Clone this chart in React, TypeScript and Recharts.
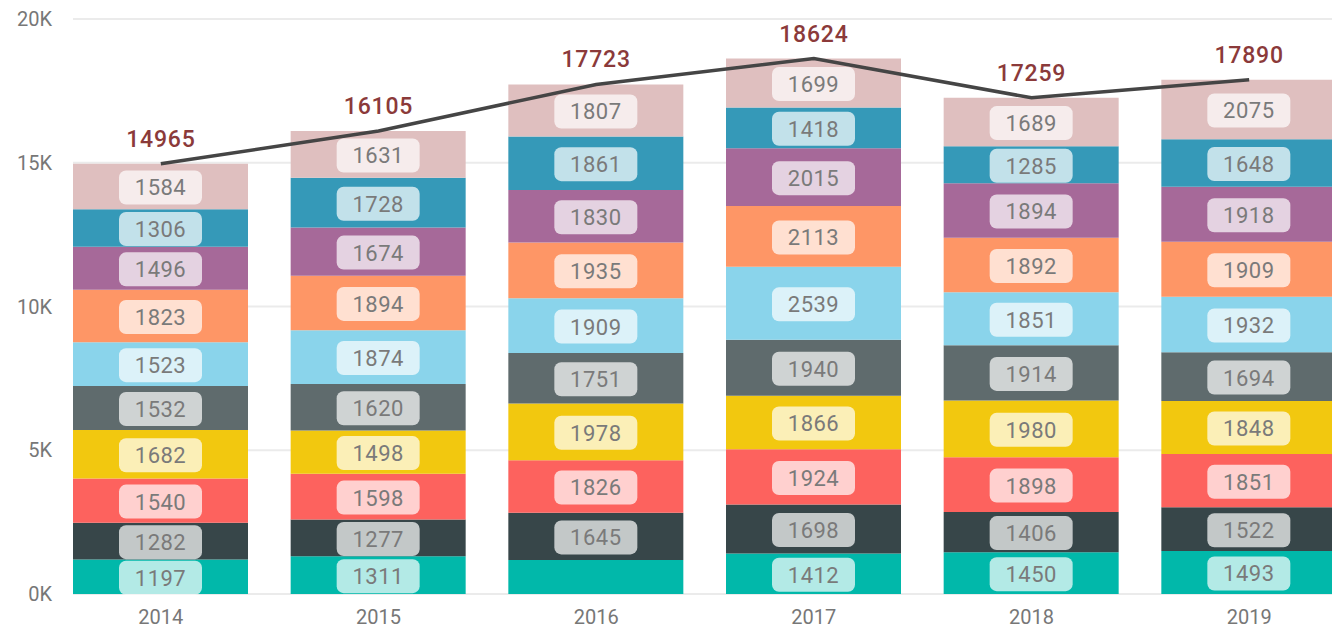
import { ComposedChart, Bar, Line, XAxis, YAxis, CartesianGrid, LabelList } from 'recharts'

const YEARS = ['2014', '2015', '2016', '2017', '2018', '2019']

// stacked series, bottom to top
const s1 = [1197, 1311, 1181, 1412, 1450, 1493]
const s2 = [1282, 1277, 1645, 1698, 1406, 1522]
const s3 = [1540, 1598, 1826, 1924, 1898, 1851]
const s4 = [1682, 1498, 1978, 1866, 1980, 1848]
const s5 = [1532, 1620, 1751, 1940, 1914, 1694]
const s6 = [1523, 1874, 1909, 2539, 1851, 1932]
const s7 = [1823, 1894, 1935, 2113, 1892, 1909]
const s8 = [1496, 1674, 1830, 2015, 1894, 1918]
const s9 = [1306, 1728, 1861, 1418, 1285, 1648]
const s10 = [1584, 1631, 1807, 1699, 1689, 2075]
const TOTALS = [14965, 16105, 17723, 18624, 17259, 17890]

const SERIES = [s1, s2, s3, s4, s5, s6, s7, s8, s9, s10]
const COLORS = [
  '#01B8AA', '#374649', '#FD625E', '#F2C80F', '#5F6B6D',
  '#8AD4EB', '#FE9666', '#A66999', '#3599B8', '#DFBFBF',
]
// the reference shows no label on the 2016 bottom segment
const HIDDEN = [{ series: 0, year: '2016' }]

const Y_TICKS = [0, 5000, 10000, 15000, 20000]

const data = YEARS.map((year, i) => {
  const row: Record<string, string | number> = { year, total: TOTALS[i] }
  SERIES.forEach((s, k) => {
    row['s' + k] = s[i]
  })
  return row
})

const FONT = 'Roboto, "DejaVu Sans", sans-serif'

function makeSegmentLabel(series: number) {
  return (props: any) => {
    const { x, y, width, height, value, index } = props
    if (HIDDEN.some((h) => h.series === series && h.year === YEARS[index])) return null
    const cx = x + width / 2
    const cy = y + height / 2 + 1
    return (
      <g>
        <rect x={cx - 41.5} y={cy - 17} width={83} height={34} rx={7} fill="#fff" fillOpacity={0.7} />
        <text
          x={cx}
          y={cy}
          dy="0.36em"
          textAnchor="middle"
          fontFamily={FONT}
          fontSize={22}
          fill="#7A7A7A"
          letterSpacing={0.5}
        >
          {value}
        </text>
      </g>
    )
  }
}

function TotalLabel(props: any) {
  const { x, y, value } = props
  return (
    <text
      x={x}
      y={y - 17}
      textAnchor="middle"
      fontFamily={FONT}
      fontSize={23}
      fontWeight={500}
      fill="#8B3A3A"
      letterSpacing={0.8}
    >
      {value}
    </text>
  )
}

export default function App() {
  return (
    <div
      style={{
        position: 'absolute',
        left: 0,
        top: 0,
        width: 1332,
        height: 631,
        overflow: 'hidden',
        background: '#fff',
      }}
    >
      <ComposedChart
        width={1358}
        height={631}
        data={data}
        margin={{ top: 19, right: 0, bottom: 0, left: 0 }}
      >
        <CartesianGrid vertical={false} stroke="#EBEBEB" strokeWidth={2} />
        <XAxis
          dataKey="year"
          height={37}
          padding={{ left: -21, right: 0 }}
          axisLine={false}
          tickLine={false}
          tickSize={0}
          tickMargin={16}
          tick={{ fill: '#777', fontSize: 20, fontFamily: FONT }}
        />
        <YAxis
          width={73}
          domain={[0, 20000]}
          ticks={Y_TICKS}
          axisLine={false}
          tickLine={false}
          tickSize={0}
          tickMargin={21}
          tickFormatter={(v: number) => `${v / 1000}K`}
          tick={{ fill: '#777', fontSize: 20, fontFamily: FONT }}
        />
        {SERIES.map((_, k) => (
          <Bar key={k} dataKey={'s' + k} stackId="a" fill={COLORS[k]} barSize={175} isAnimationActive={false}>
            <LabelList dataKey={'s' + k} content={makeSegmentLabel(k)} />
          </Bar>
        ))}
        <Line
          dataKey="total"
          stroke="#454545"
          strokeWidth={3.5}
          dot={false}
          activeDot={false}
          isAnimationActive={false}
        >
          <LabelList dataKey="total" content={TotalLabel} />
        </Line>
      </ComposedChart>
    </div>
  )
}
